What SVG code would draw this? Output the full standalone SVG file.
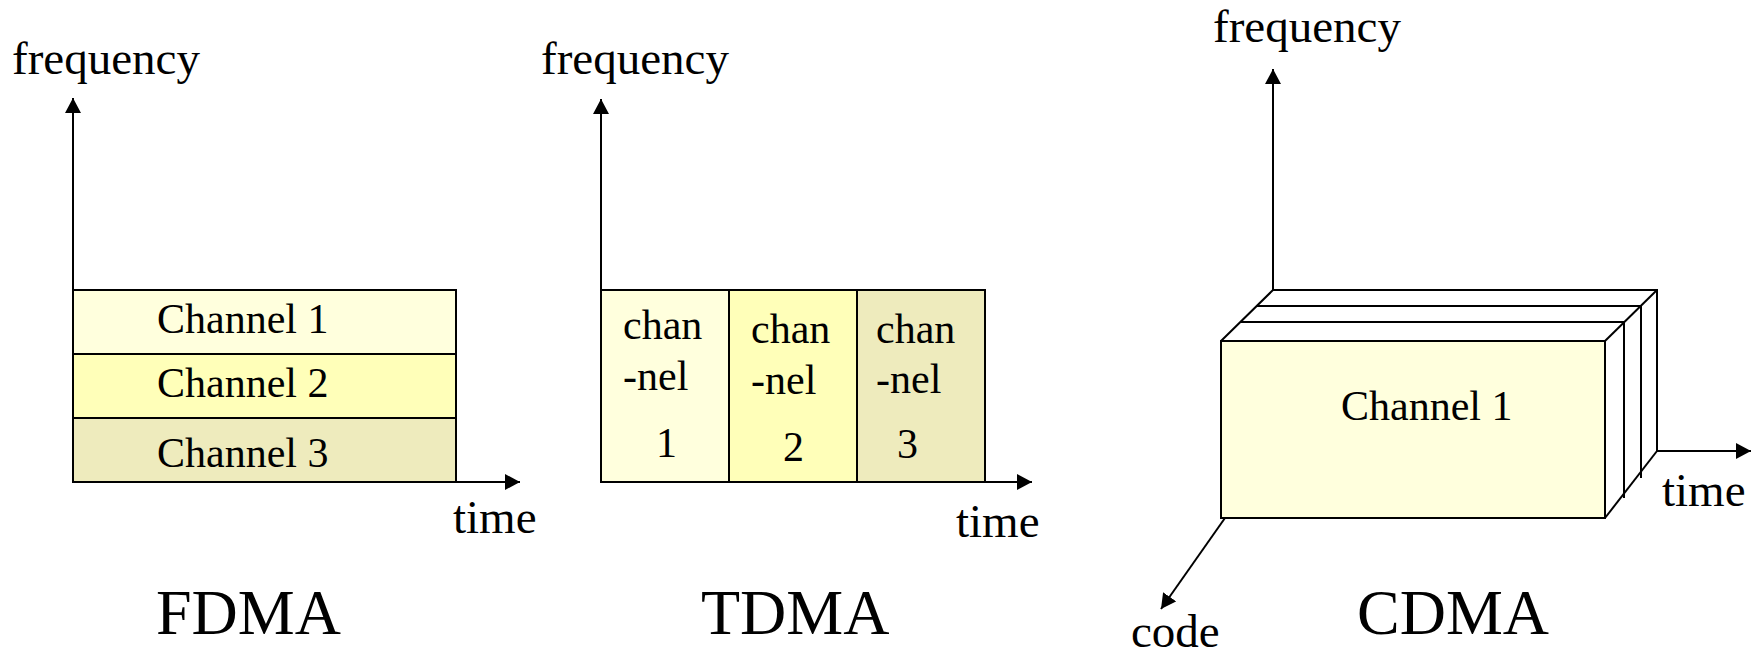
<svg xmlns="http://www.w3.org/2000/svg" width="1760" height="656" viewBox="0 0 1760 656">
  <style>
    text { font-family: "Liberation Serif", "Times New Roman", serif; fill: #000; }
    .lbl { font-size: 47px; }
    .ch { font-size: 42px; }
    .title { font-size: 64px; }
    .axis { stroke: #000; stroke-width: 2; fill: none; marker-end: url(#arrow); }
    .cell { stroke: #000; stroke-width: 2; }
    .edge { stroke: #000; stroke-width: 2; fill: none; }
    .c1 { fill: #FFFFDD; }
    .c2 { fill: #FFFFB9; }
    .c3 { fill: #EEEBBD; }
  </style>
  <defs>
    <marker id="arrow" markerWidth="16" markerHeight="16" refX="15" refY="8" orient="auto" markerUnits="userSpaceOnUse">
      <polygon points="0,0 15,8 0,16" fill="#000"/>
    </marker>
  </defs>
  <rect width="1760" height="656" fill="#fff"/>

  <!-- FDMA: frequency bands stacked over time -->
  <g id="fdma-ch1">
    <rect class="cell c1" x="73" y="290" width="383" height="64"/>
    <text class="ch" x="157" y="333">Channel 1</text>
  </g>
  <g id="fdma-ch2">
    <rect class="cell c2" x="73" y="354" width="383" height="64"/>
    <text class="ch" x="157" y="397">Channel 2</text>
  </g>
  <g id="fdma-ch3">
    <rect class="cell c3" x="73" y="418" width="383" height="64"/>
    <text class="ch" x="157" y="467">Channel 3</text>
  </g>

  <!-- TDMA: time slots side by side -->
  <g id="tdma-ch1">
    <rect class="cell c1" x="601" y="290" width="128" height="192"/>
    <text class="ch" x="623" y="339">chan</text>
    <text class="ch" x="623" y="390">-nel</text>
    <text class="ch" x="656" y="457">1</text>
  </g>
  <g id="tdma-ch2">
    <rect class="cell c2" x="729" y="290" width="128" height="192"/>
    <text class="ch" x="751" y="343">chan</text>
    <text class="ch" x="751" y="394">-nel</text>
    <text class="ch" x="783" y="461">2</text>
  </g>
  <g id="tdma-ch3">
    <rect class="cell c3" x="857" y="290" width="128" height="192"/>
    <text class="ch" x="876" y="343">chan</text>
    <text class="ch" x="876" y="393">-nel</text>
    <text class="ch" x="897" y="458">3</text>
  </g>

  <!-- CDMA: layered code slices in a box -->
  <g id="cdma-layers">
    <!-- back layers -->
    <polyline class="edge" points="1221,341 1273,290 1657,290 1657,451"/>
    <polyline class="edge" points="1257,306 1641,306 1641,478"/>
    <polyline class="edge" points="1241,322 1624,322 1624,498"/>
    <line class="edge" x1="1605" y1="341" x2="1657" y2="290"/>
    <line class="edge" x1="1605" y1="518" x2="1657" y2="451"/>
  </g>
  <g id="cdma-ch1">
    <rect class="cell c1" x="1221" y="341" width="384" height="177"/>
    <text class="ch" x="1341" y="420">Channel 1</text>
  </g>

  <!-- axes -->
  <g id="connectors">
    <line class="axis" x1="73" y1="482" x2="73" y2="98"/>
    <line class="axis" x1="73" y1="482" x2="520" y2="482"/>
    <line class="axis" x1="601" y1="482" x2="601" y2="99"/>
    <line class="axis" x1="601" y1="482" x2="1032" y2="482"/>
    <line class="axis" x1="1273" y1="290" x2="1273" y2="69"/>
    <line class="axis" x1="1657" y1="451" x2="1751" y2="451"/>
    <line class="axis" x1="1225" y1="518" x2="1161" y2="609"/>
  </g>

  <!-- axis labels -->
  <g id="labels">
    <text class="lbl" x="12" y="74">frequency</text>
    <text class="lbl" x="453" y="533">time</text>
    <text class="lbl" x="541" y="74">frequency</text>
    <text class="lbl" x="956" y="537">time</text>
    <text class="lbl" x="1213" y="42">frequency</text>
    <text class="lbl" x="1662" y="506">time</text>
    <text class="lbl" x="1131" y="647">code</text>
  </g>

  <!-- scheme titles -->
  <g id="titles">
    <text class="title" x="156" y="634">FDMA</text>
    <text class="title" x="701" y="634">TDMA</text>
    <text class="title" x="1357" y="634">CDMA</text>
  </g>
</svg>
